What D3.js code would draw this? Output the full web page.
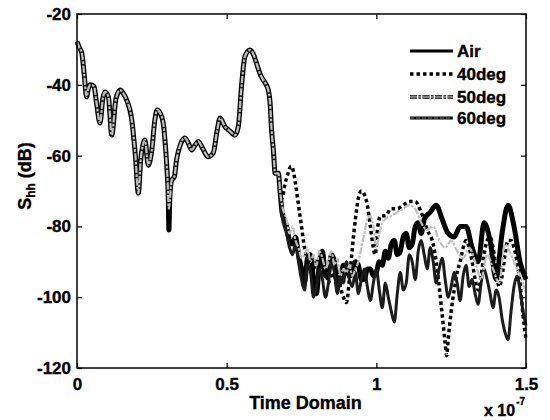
<!DOCTYPE html>
<html><head><meta charset="utf-8">
<script src="https://cdn.jsdelivr.net/npm/d3@7"></script>
<style>body{margin:0;background:#fff}svg{display:block}svg text{font-family:"Liberation Sans",Arial,sans-serif !important;font-weight:bold !important;fill:#000 !important;stroke:#000;stroke-width:0.35px}</style>
</head><body><svg id="c" width="550" height="420"></svg>
<script>
// shared early response (all series coincide), time in units of 1e-7 s, value in dB
const sharedT = [0,0.008,0.016,0.024,0.032,0.038,0.045,0.057,0.065,0.077,0.086,0.094,0.105,0.116,0.13,0.144,0.155,0.166,0.183,0.195,0.205,0.213,0.22,0.227,0.238,0.25,0.26,0.268,0.278,0.288,0.296,0.302,0.316,0.325,0.333,0.345,0.36,0.372,0.383,0.395,0.405,0.42,0.438,0.455,0.468,0.478,0.494,0.51,0.528,0.539,0.55,0.561,0.578,0.59,0.6,0.612,0.622,0.632,0.639,0.645,0.65,0.656,0.662,0.673,0.678];
const sharedY = [-27.8,-29.5,-31,-37,-43.4,-41,-40,-40.5,-45,-50.8,-44,-42,-43.4,-54.2,-44,-41.5,-42.5,-44.3,-50,-60,-70.6,-61,-57,-55.6,-62.7,-58.4,-50,-47.1,-48,-50.8,-58,-66,-67,-66,-61,-57,-55,-56.5,-58.4,-57,-56,-58,-60.3,-59.3,-53,-49.4,-51.8,-53,-54.2,-51.8,-40,-32,-30.2,-31.5,-34,-37,-38.6,-40,-41.5,-45,-52.8,-58.4,-65,-65,-69.7];

// series-specific parts
const airT = [0.305,0.307,0.31,0.685,0.70,0.71,0.72,0.73,0.74,0.75,0.76,0.77,0.78,0.79,0.80,0.81,0.82,0.83,0.84,0.85,0.86,0.87,0.88,0.89,0.90,0.91,0.92,0.93,0.94,0.95,0.96,0.97,0.98,0.99,1.00,1.01,1.02,1.03,1.04,1.05,1.06,1.07,1.08,1.09,1.10,1.11,1.12,1.13,1.14,1.15,1.16,1.18,1.20,1.22,1.24,1.26,1.28,1.30,1.32,1.34,1.36,1.38,1.40,1.42,1.44,1.46,1.48,1.50];
const airY = [-72,-81,-72,-76,-80,-84,-85,-83,-88,-92,-96,-89,-88,-95,-99,-90,-87,-94,-93,-88,-90,-97,-95,-91,-92,-94,-93,-90,-91,-95,-95,-92,-92,-94,-93,-90,-91,-87,-89,-85,-84,-88,-87,-83,-82,-86,-85,-80,-79,-82,-78,-76,-74,-78,-82,-83,-80,-80,-86,-90,-79,-84,-95,-82,-74,-80,-90,-95];

const deg40T = [0.307,0.685,0.695,0.705,0.715,0.72,0.73,0.74,0.75,0.76,0.77,0.78,0.79,0.80,0.81,0.82,0.83,0.84,0.85,0.86,0.87,0.88,0.89,0.90,0.91,0.92,0.93,0.94,0.95,0.96,0.97,0.98,0.99,0.996,1.005,1.015,1.03,1.05,1.07,1.09,1.11,1.13,1.15,1.17,1.19,1.20,1.21,1.22,1.23,1.235,1.24,1.25,1.26,1.27,1.28,1.29,1.30,1.31,1.32,1.33,1.34,1.35,1.36,1.37,1.38,1.39,1.40,1.41,1.42,1.43,1.44,1.45,1.46,1.47,1.48,1.49,1.50];
const deg40Y = [-74,-72,-68,-65,-63,-63.5,-68,-74,-80,-86,-89,-88,-92,-89,-91,-94,-92,-96,-93,-95,-92,-97,-100,-101.5,-95,-86,-78,-72,-70,-71,-74,-80,-86,-88,-80,-77,-77,-75,-75,-74,-73,-73,-76,-81,-85,-90,-97,-105,-113,-116.5,-112,-104,-98,-93,-90,-86,-84,-86,-90,-95,-98,-94,-88,-84,-83,-86,-92,-97,-94,-88,-84,-84,-86,-90,-96,-105,-112];

const deg50T = [0.307,0.685,0.70,0.71,0.72,0.73,0.74,0.75,0.76,0.77,0.78,0.79,0.80,0.81,0.82,0.83,0.84,0.85,0.86,0.87,0.88,0.89,0.90,0.91,0.92,0.93,0.94,0.95,0.96,0.97,0.98,0.99,1.00,1.01,1.02,1.03,1.05,1.07,1.09,1.11,1.13,1.15,1.17,1.19,1.21,1.23,1.25,1.27,1.29,1.31,1.33,1.35,1.37,1.39,1.41,1.43,1.45,1.47,1.49,1.50];
const deg50Y = [-75,-74,-78,-82,-80,-84,-86,-89,-88,-86,-90,-88,-91,-87,-89,-92,-90,-87,-91,-89,-94,-92,-93,-91,-94,-92,-90,-86,-82,-78,-77,-80,-86,-82,-79,-78,-77,-76,-75,-74,-75,-79,-81,-80,-84,-86,-84,-87,-89,-86,-90,-95,-88,-92,-96,-85,-88,-92,-96,-99];

const deg60T = [0.307,0.685,0.70,0.71,0.72,0.73,0.74,0.75,0.76,0.77,0.78,0.79,0.80,0.81,0.82,0.83,0.84,0.85,0.86,0.87,0.88,0.89,0.90,0.91,0.92,0.93,0.94,0.95,0.96,0.97,0.98,0.99,1.00,1.01,1.02,1.03,1.04,1.05,1.06,1.07,1.08,1.09,1.10,1.11,1.12,1.13,1.14,1.15,1.16,1.17,1.18,1.19,1.20,1.21,1.22,1.23,1.24,1.25,1.26,1.27,1.28,1.29,1.30,1.31,1.32,1.33,1.34,1.35,1.36,1.37,1.38,1.39,1.40,1.41,1.42,1.43,1.44,1.45,1.46,1.47,1.48,1.49,1.50];
const deg60Y = [-73,-77,-82,-86,-88,-85,-90,-95,-98,-91,-93,-100,-97,-92,-95,-100,-96,-90,-93,-99,-94,-96,-90,-95,-97,-93,-99,-95,-92,-97,-101,-96,-92,-98,-103,-96,-100,-104,-107,-99,-93,-98,-96,-88,-90,-95,-87,-84,-88,-92,-86,-90,-96,-92,-89,-95,-100,-97,-93,-96,-101,-94,-91,-97,-95,-99,-102,-96,-92,-95,-99,-103,-98,-100,-106,-110,-112,-104,-97,-94,-98,-104,-108];

const seriesNames = ["Air","40deg","50deg","60deg"];
const xTicks = [0,0.5,1,1.5];
const xTickLabels = ["0","0.5","1","1.5"];
const yTicks = [-20,-40,-60,-80,-100,-120];
const yTickLabels = ["-20","-40","-60","-80","-100","-120"];

const svg = d3.select("#c");
const L=77,R=526,T=14,B=368;
const x = d3.scaleLinear().domain([0,1.5]).range([L,R]);
const y = d3.scaleLinear().domain([-120,-20]).range([B,T]);

function build(tArr,yArr){
  const pts = sharedT.map((t,i)=>[t,sharedY[i]]).concat(tArr.map((t,i)=>[t,yArr[i]]));
  pts.sort((a,b)=>a[0]-b[0]);
  return pts;
}
const data = {
  "Air": build(airT,airY),
  "40deg": build(deg40T,deg40Y),
  "50deg": build(deg50T,deg50Y),
  "60deg": build(deg60T,deg60Y)
};
const style = {
  "Air":  {stroke:"#000",w:5,dash:null},
  "40deg":{stroke:"#000",w:3.5,dash:"3.5,3"},
  "60deg":{stroke:"#1c1c1c",w:3,dash:null},
  "50deg":{stroke:"#bdbdbd",w:2.2,dash:"7,1.5,2.5,1.5"}
};
const line = d3.line().x(d=>x(d[0])).y(d=>y(d[1])).curve(d3.curveMonotoneX);
const g = svg.append("g");
["Air","40deg","60deg","50deg"].forEach(n=>{
  const s=style[n];
  g.append("path").datum(data[n]).attr("d",line).attr("fill","none")
   .attr("stroke",s.stroke).attr("stroke-width",s.w).attr("stroke-linejoin","round")
   .attr("stroke-dasharray",s.dash);
});

// axes box
svg.append("rect").attr("x",L).attr("y",T).attr("width",R-L).attr("height",B-T)
  .attr("fill","none").attr("stroke","#000").attr("stroke-width",1.5);
const xb = svg.append("g").attr("transform",`translate(0,${B})`)
  .call(d3.axisBottom(x).tickValues(xTicks).tickSizeInner(-5).tickSizeOuter(0).tickFormat((d,i)=>xTickLabels[i]).tickPadding(10));
const xt = svg.append("g").attr("transform",`translate(0,${T})`)
  .call(d3.axisTop(x).tickValues(xTicks).tickSizeInner(-5).tickSizeOuter(0).tickFormat(""));
const yl = svg.append("g").attr("transform",`translate(${L},0)`)
  .call(d3.axisLeft(y).tickValues(yTicks).tickSizeInner(-5).tickSizeOuter(0).tickFormat((d,i)=>yTickLabels[i]).tickPadding(6));
const yr = svg.append("g").attr("transform",`translate(${R},0)`)
  .call(d3.axisRight(y).tickValues(yTicks).tickSizeInner(-5).tickSizeOuter(0).tickFormat(""));
[xb,xt,yl,yr].forEach(a=>{
  a.select(".domain").remove();
  a.attr("font-family",null).attr("font-size",null).attr("fill",null);
  a.selectAll("line").attr("stroke","#000").attr("stroke-width",1.2);
  a.selectAll("text").style("font-size","17px");
});
xb.selectAll("text").attr("dy","0.71em");

// axis titles
svg.append("text").attr("x",(L+R)/2+4).attr("y",409).attr("text-anchor","middle").style("font-size","18px").text("Time Domain");
const xm = svg.append("text").attr("x",484).attr("y",416).style("font-size","16px");
xm.append("tspan").text("x 10");
xm.append("tspan").style("font-size","10px").attr("dy",-11).attr("dx",1).text("-7");

const yt = svg.append("text").attr("transform","translate(31,176) rotate(-90)").attr("text-anchor","middle").style("font-size","18px");
yt.append("tspan").text("S");
yt.append("tspan").style("font-size","12px").attr("dy",4).text("hh");
yt.append("tspan").attr("dy",-4).text(" (dB)");

// legend
const lg = svg.append("g");
const rows = [51,74,97,118];
seriesNames.forEach((n,i)=>{
  const yy = rows[i];
  if(n==="Air"){
    lg.append("line").attr("x1",410).attr("x2",453).attr("y1",yy).attr("y2",yy)
      .attr("stroke","#000").attr("stroke-width",3.2);
  } else if(n==="60deg"){
    lg.append("line").attr("x1",410).attr("x2",453).attr("y1",yy).attr("y2",yy)
      .attr("stroke","#000").attr("stroke-width",2.8);
    lg.append("line").attr("x1",410).attr("x2",453).attr("y1",yy).attr("y2",yy)
      .attr("stroke","#999").attr("stroke-width",0.8).attr("stroke-dasharray","4,2");
  } else if(n==="40deg"){
    lg.append("line").attr("x1",410).attr("x2",453).attr("y1",yy).attr("y2",yy)
      .attr("stroke","#000").attr("stroke-width",3.5).attr("stroke-dasharray","3.5,3");
  } else {
    lg.append("line").attr("x1",410).attr("x2",453).attr("y1",yy).attr("y2",yy)
      .attr("stroke","#000").attr("stroke-width",3.4).attr("stroke-dasharray","7,1.5,2.5,1.5");
    lg.append("line").attr("x1",410).attr("x2",453).attr("y1",yy).attr("y2",yy)
      .attr("stroke","#aaa").attr("stroke-width",1.4).attr("stroke-dasharray","7,1.5,2.5,1.5");
  }
  lg.append("text").attr("x",457).attr("y",yy).attr("dy","0.36em").style("font-size","17px").text(n);
});
</script></body></html>
